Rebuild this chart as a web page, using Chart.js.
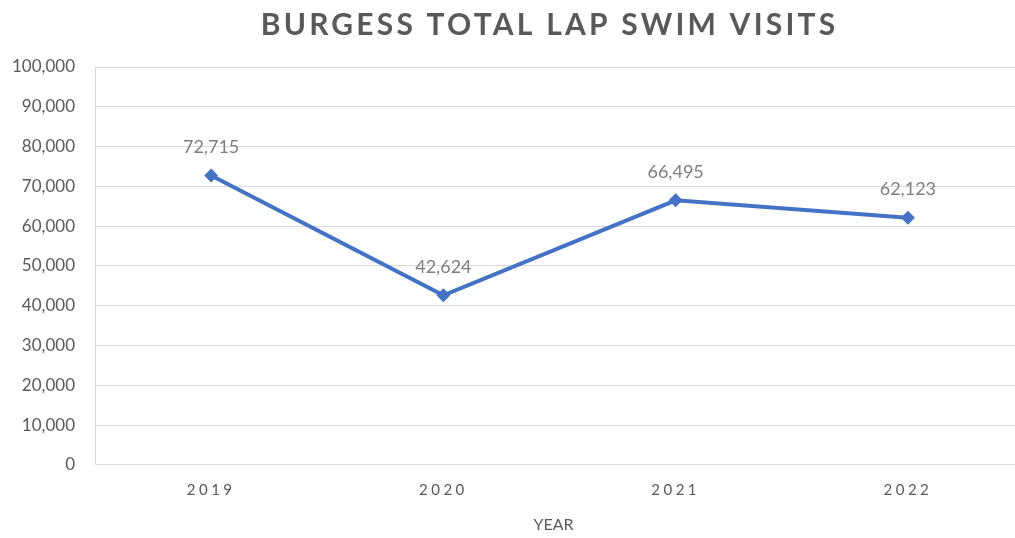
<!DOCTYPE html>
<html>
<head>
<meta charset="utf-8">
<script src="https://cdn.jsdelivr.net/npm/chart.js@4/dist/chart.umd.min.js"></script>
<style>
  html, body { margin: 0; padding: 0; background: #fff; overflow: hidden; }
  #wrap { width: 1031px; height: 538px; }
</style>
</head>
<body>
<div id="wrap"><canvas id="lapChart"></canvas></div>
<script>
const years = ["2019", "2020", "2021", "2022"];
const visits = [72715, 42624, 66495, 62123];
const yTicks = [0, 10000, 20000, 30000, 40000, 50000, 60000, 70000, 80000, 90000, 100000];

const fmt = v => v.toLocaleString("en-US");
const FONT = "Lato, 'Open Sans', sans-serif";

// wraps title + x labels so they get the spaced-out look
const spacingPlugin = {
  id: "spacing",
  afterLayout(chart) {
    const x = chart.scales.x;
    if (x && !x._spaced) {
      const orig = x.drawLabels;
      x.drawLabels = function (area) {
        this.ctx.save();
        this.ctx.letterSpacing = "3.5px";
        orig.call(this, area);
        this.ctx.restore();
      };
      const origTitle = x.drawTitle;
      x.drawTitle = function () {
        this.ctx.save();
        this.ctx.translate(-6, 0);
        origTitle.call(this);
        this.ctx.restore();
      };
      x._spaced = true;
    }
    const t = chart.titleBlock;
    if (t && !t._spaced) {
      const origT = t.draw;
      t.draw = function () {
        this.ctx.save();
        this.ctx.letterSpacing = "3.2px";
        this.ctx.translate(34, 0); // excel centres it over a wider frame
        origT.call(this);
        this.ctx.restore();
      };
      t._spaced = true;
    }
  }
};

const valueLabels = {
  id: "valueLabels",
  afterDatasetsDraw(chart) {
    const ctx = chart.ctx;
    const meta = chart.getDatasetMeta(0);
    ctx.save();
    ctx.font = "18px " + FONT;
    ctx.fillStyle = "#7f7f7f";
    ctx.textAlign = "center";
    ctx.textBaseline = "middle";
    meta.data.forEach((pt, i) => {
      ctx.fillText(fmt(visits[i]), pt.x, pt.y - 28);
    });
    ctx.restore();
  }
};

document.addEventListener("DOMContentLoaded", () => {
  const ctx = document.getElementById("lapChart").getContext("2d");
  new Chart(ctx, {
    type: "line",
    data: {
      labels: years,
      datasets: [
        {
          label: "Lap Swim Visits",
          data: visits,
          borderColor: "#4472c4",
          backgroundColor: "#4472c4",
          borderWidth: 4,
          pointStyle: "rectRot",
          pointRadius: 7,
          pointBorderWidth: 0,
          tension: 0,
        },
      ],
    },
    options: {
      responsive: true,
      maintainAspectRatio: false,
      animation: false,
      layout: { padding: { left: 0, right: 0, top: 0, bottom: 4 } },
      plugins: {
        legend: { display: false },
        tooltip: { enabled: false },
        title: {
          display: true,
          text: "BURGESS TOTAL LAP SWIM VISITS",
          color: "#595959",
          align: "center",
          font: { family: FONT, size: 30, weight: "bold" },
          padding: { top: 7, bottom: 24 },
        },
      },
      scales: {
        x: {
          offset: true,
          grid: { display: false, drawTicks: false },
          border: { display: false },
          ticks: {
            color: "#595959",
            padding: 16,
            font: { family: FONT, size: 15 },
          },
          title: {
            display: true,
            text: "YEAR",
            color: "#595959",
            font: { family: FONT, size: 16 },
            padding: { top: 0, bottom: 0 },
          },
        },
        y: {
          min: 0,
          max: 100000,
          afterFit(scale) { scale.width = 95; },
          afterBuildTicks(scale) { scale.ticks = yTicks.map(v => ({ value: v })); },
          grid: { color: "#d9d9d9", lineWidth: 1, drawTicks: false },
          border: { display: true, color: "#d9d9d9", width: 1 },
          ticks: {
            color: "#595959",
            padding: 20,
            font: { family: FONT, size: 17 },
            callback: v => fmt(v),
          },
        },
      },
    },
    plugins: [spacingPlugin, valueLabels],
  });
});
</script>
</body>
</html>
